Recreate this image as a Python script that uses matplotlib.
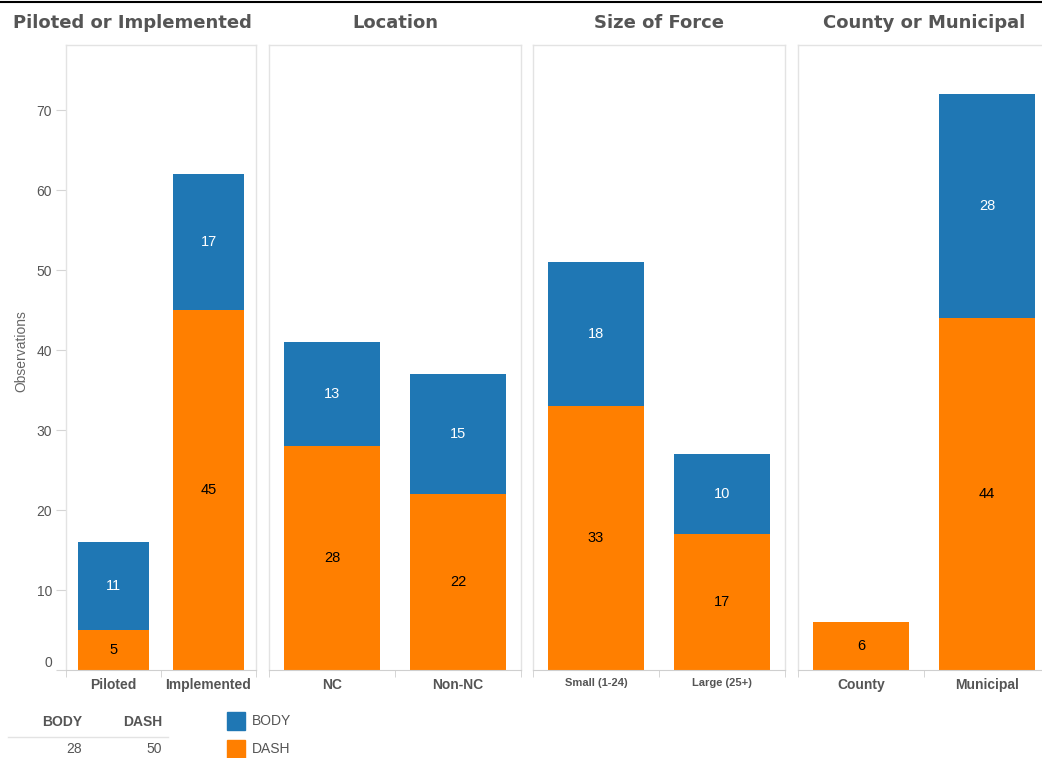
import matplotlib.pyplot as plt
from matplotlib.lines import Line2D
from matplotlib.patches import Rectangle

# data
panel_titles = ["Piloted or Implemented", "Location", "Size of Force", "County or Municipal"]
panel_cats = [["Piloted", "Implemented"], ["NC", "Non-NC"],
              ["Small (1-24)", "Large (25+)"], ["County", "Municipal"]]
dash_vals = [[5, 45], [28, 22], [33, 17], [6, 44]]
body_vals = [[11, 17], [13, 15], [18, 10], [0, 28]]
total_body = 28
total_dash = 50

BLUE = "#1f77b4"
ORANGE = "#ff7f00"
GREY_TXT = "#555555"

W, H = 1042, 758
fig = plt.figure(figsize=(W / 100, H / 100), dpi=100)


def fx(x):
    return x / W


def fy(y):
    return 1 - y / H


# pane extents in pixels (left, right); top and bottom shared
panes = [(66, 256), (269, 521), (533, 785), (798, 1050)]
title_centres = [132, 395, 659, 924]
top, bottom = 45, 670
ymax = (bottom - top) / 8.0

for i, (l, r) in enumerate(panes):
    ax = fig.add_axes([fx(l), fy(bottom), fx(r) - fx(l), (bottom - top) / H])
    xs = [0, 1]
    ax.bar(xs, dash_vals[i], width=0.755, color=ORANGE, zorder=2)
    ax.bar(xs, body_vals[i], width=0.755, bottom=dash_vals[i], color=BLUE, zorder=2)
    for x, d, b in zip(xs, dash_vals[i], body_vals[i]):
        if d > 0:
            ax.text(x, d / 2, str(d), ha="center", va="center", fontsize=10.5,
                    color="black", family="Liberation Sans")
        if b > 0:
            ax.text(x, d + b / 2, str(b), ha="center", va="center", fontsize=10.5,
                    color="white", family="Liberation Sans")
    ax.set_xlim(-0.5, 1.5)
    ax.set_ylim(0, ymax)
    for s in ["left", "right", "top"]:
        ax.spines[s].set_color("#e3e3e3")
        ax.spines[s].set_linewidth(1)
    ax.spines["bottom"].set_color("#cfcfcf")
    ax.set_xticks(xs)
    small = i == 2
    ax.set_xticklabels(panel_cats[i], fontsize=8 if small else 10, fontweight="bold",
                       color=GREY_TXT, family="Liberation Sans")
    ax.tick_params(axis="x", which="major", length=0, pad=6)
    ax.set_xticks([-0.5, 0.5, 1.5], minor=True)
    ax.tick_params(axis="x", which="minor", length=5, color="#cfcfcf")
    if i == 0:
        ax.set_yticks(range(0, 80, 10))
        ax.tick_params(axis="y", length=7, color="#d5d5d5", labelsize=10,
                       labelcolor="#555555", pad=3)
        for t in ax.get_yticklabels():
            t.set_family("Liberation Sans")
        ax.get_yticklabels()[0].set_va("bottom")
        ax.set_ylabel("Observations", fontsize=10, color="#666666",
                      family="Liberation Sans")
        ax.yaxis.set_label_coords(-0.2, 0.51)
    else:
        ax.set_yticks([])
    fig.text(fx(title_centres[i]), fy(23), panel_titles[i], ha="center", va="center",
             fontsize=13, fontweight="bold", color=GREY_TXT, family="DejaVu Sans")

# thin black rule at the very top
fig.add_artist(Line2D([0, 1], [fy(2), fy(2)], color="black", lw=1.5))

# summary table
fig.text(fx(82), fy(722), "BODY", ha="right", va="center", fontsize=10,
         fontweight="bold", color=GREY_TXT, family="Liberation Sans")
fig.text(fx(162), fy(722), "DASH", ha="right", va="center", fontsize=10,
         fontweight="bold", color=GREY_TXT, family="Liberation Sans")
fig.add_artist(Line2D([fx(8), fx(168)], [fy(737), fy(737)], color="#e3e3e3", lw=1))
fig.text(fx(82), fy(749), str(total_body), ha="right", va="center", fontsize=10,
         color=GREY_TXT, family="Liberation Sans")
fig.text(fx(162), fy(749), str(total_dash), ha="right", va="center", fontsize=10,
         color=GREY_TXT, family="Liberation Sans")

# legend
for yy, col, lab in [(712, BLUE, "BODY"), (740, ORANGE, "DASH")]:
    fig.add_artist(Rectangle((fx(227), fy(yy + 18)), 18 / W, 18 / H,
                             color=col, transform=fig.transFigure))
    fig.text(fx(252), fy(yy + 9), lab, ha="left", va="center", fontsize=10,
             color=GREY_TXT, family="Liberation Sans")

fig.savefig("out.png", dpi=100)
